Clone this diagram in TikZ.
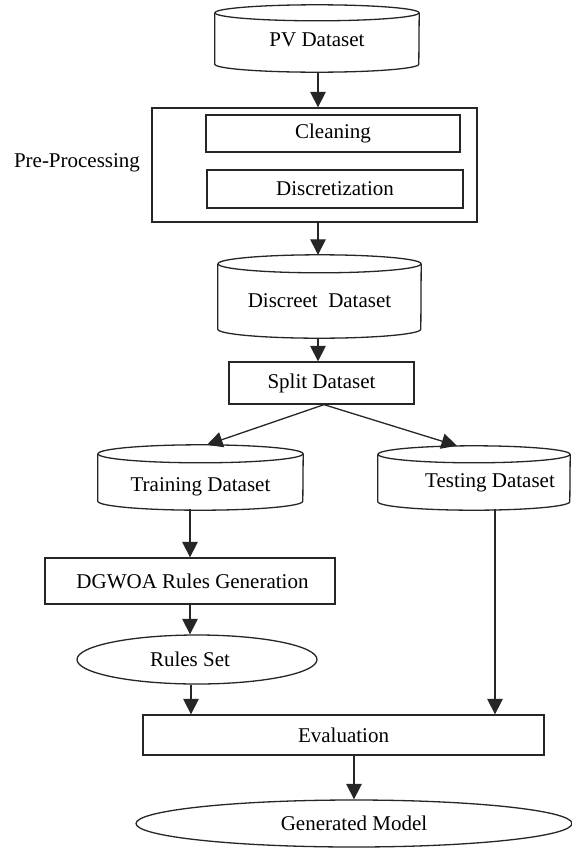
\documentclass[tikz,border=0pt]{standalone}
\usepackage{fontspec}
\setmainfont{Liberation Serif}
\usetikzlibrary{arrows.meta,shapes.geometric,calc}

% Vertical drum (database) outline around a named node: #1 name, #2 half width, #3 ellipse y radius
\newcommand\drumshape[3]{%
  \draw[ln] ($(#1.north)+(0,#3)$) ellipse[x radius=#2pt, y radius=#3pt];
  \draw[ln] ($(#1.north west)+(0,#3)$) -- ($(#1.south west)+(0,-#3)$)
    arc[start angle=180, end angle=360, x radius=#2pt, y radius=#3pt]
    -- ($(#1.north east)+(0,#3)$);
}

\tikzset{
  ln/.style={line width=1.3pt, draw=black!85},
  arr/.style={ln, -{Triangle[length=15.5pt,width=15.5pt]}},
  boxnode/.style={ln, rectangle, inner sep=0pt, font=\fontsize{21pt}{25pt}\selectfont},
  drum/.style={rectangle, inner sep=0pt, font=\fontsize{21pt}{25pt}\selectfont},
  oval/.style={ln, ellipse, inner sep=0pt, font=\fontsize{21pt}{25pt}\selectfont},
  plain/.style={inner sep=0pt, font=\fontsize{21pt}{25pt}\selectfont},
}

\begin{document}
\begin{tikzpicture}[x=1pt, y=-1pt]
  \fill[white] (0,0) rectangle (572,849);
  \useasboundingbox (0,0) rectangle (572,849);

  % data source
  \node[drum, minimum width=204pt, minimum height=67pt,
        label={[plain, yshift=-1pt]center:PV Dataset}] (pv) at (317,38.5) {};
  \drumshape{pv}{102}{8}

  % pre-processing block
  \node[boxnode, minimum width=325pt, minimum height=114pt] (pre) at (314.5,165) {};
  \node[boxnode, draw, minimum width=254pt, minimum height=37pt] (clean) at (333,133.5) {Cleaning};
  \node[boxnode, draw, minimum width=256pt, minimum height=38pt] (disc) at (335,189) {Discretization};
  \draw[ln] (pre.north west) rectangle (pre.south east);
  \node[plain] (prelbl) at (77,163) {Pre-Processing};

  % discretised data
  \node[drum, minimum width=203pt, minimum height=83pt,
        label={[plain, yshift=-4pt]center:Discreet\ \ Dataset}] (dd) at (319.5,296.5) {};
  \drumshape{dd}{101.5}{9}

  \node[boxnode, draw, minimum width=185pt, minimum height=42pt] (split) at (321.5,383) {Split Dataset};

  % training / testing partitions
  \node[drum, minimum width=205pt, minimum height=65pt,
        label={[plain, yshift=-9pt]center:Training Dataset}] (train) at (200.5,477.5) {};
  \drumshape{train}{102.5}{9}
  \node[drum, minimum width=192pt, minimum height=64pt,
        label={[plain, xshift=16pt, yshift=-5pt]center:Testing Dataset}] (test) at (474,478) {};
  \drumshape{test}{96}{8.5}

  \node[boxnode, draw, minimum width=290pt, minimum height=46pt] (dg) at (190,581) {\hspace*{5pt}DGWOA Rules Generation};
  \node[oval, minimum width=240pt, minimum height=49pt] (rules) at (197,659.5) {\hspace*{-14pt}Rules Set};
  \node[boxnode, draw, minimum width=401pt, minimum height=40pt] (eval) at (343.5,735) {Evaluation};
  \node[oval, minimum width=436pt, minimum height=47pt] (gen) at (354,823.5) {\raisebox{-3pt}{Generated Model}};

  % connector end points on the drums
  \coordinate (trainin) at ($(train.north)+(6.5,0)$);
  \coordinate (testin) at ($(test.north)+(-17,0)$);
  \coordinate (trainout) at ($(train.south)+(-10.5,-1)$);
  \coordinate (testout) at ($(test.south)+(21,-1)$);

  % flow
  \draw[arr] (pv.south -| pre.north) ++(3.5,0) coordinate (pvout) -- (pvout |- pre.north);
  \draw[arr] (pvout |- pre.south) -- (pvout |- dd.north);
  \draw[arr] (pvout |- dd.south) -- (pvout |- split.north);
  \draw[arr] ($(split.south)+(2.5,0)$) -- (trainin);
  \draw[arr] ($(split.south)+(2.5,0)$) -- (testin);
  \draw[arr] (trainout) -- (trainout |- dg.north);
  \draw[arr] (trainout |- dg.south) -- (trainout |- rules.north);
  \draw[arr] ($(rules.south)+(-6,0)$) coordinate (rulesout) -- (rulesout |- eval.north);
  \draw[arr] (testout) -- (testout |- eval.north);
  \draw[arr] (gen.north |- eval.south) -- (gen.north);
\end{tikzpicture}
\end{document}
